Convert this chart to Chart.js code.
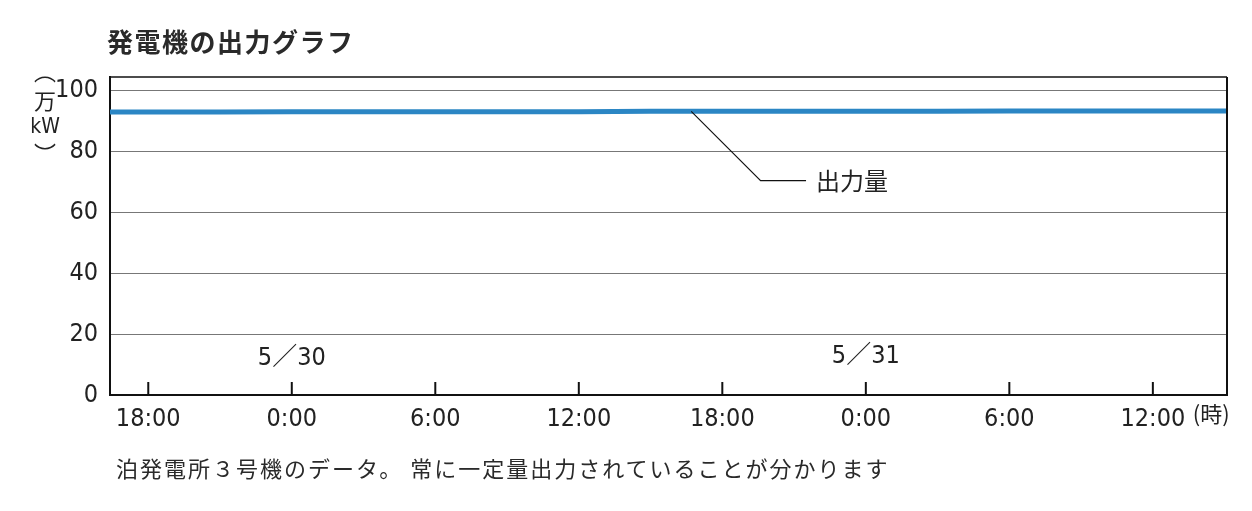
<!DOCTYPE html>
<html>
<head>
	<meta charset="utf-8">
	<title>発電機の出力グラフ</title>
	<script src="https://cdn.jsdelivr.net/npm/chart.js@4.4.1/dist/chart.umd.min.js"></script>
	<style>
		body { margin: 0; background: #fff; }
		#wrap { position: relative; width: 1252px; height: 511px; }
		#chart1 { position: absolute; left: 0; top: 0; }
		.title {
			position: absolute; left: 107px; top: 22px;
			font-family: "Noto Sans CJK JP", sans-serif; font-weight: bold;
			font-size: 26px; letter-spacing: 1.5px; color: #2a2a2a;
		}
		.caption {
			position: absolute; left: 116px; top: 451px;
			font-family: "Noto Sans CJK JP", sans-serif;
			font-size: 22px; letter-spacing: 2px; color: #2a2a2a;
		}
	</style>
</head>
<body>
<div id="wrap">
	<canvas id="chart1" width="1252" height="511"></canvas>
	<div class="title">発電機の出力グラフ</div>
	<div class="caption">泊発電所３号機のデータ。 常に一定量出力されていることが分かります</div>
</div>
<script>
	// hours counted from 5/30 0:00
	var hours  = [-7.6, -6, -3, 0, 3, 6, 9, 12, 15, 18, 21, 24, 27, 30, 33, 36, 39.1];
	var output = [93.1, 93.1, 93.1, 93.2, 93.2, 93.2, 93.2, 93.2, 93.3, 93.3, 93.3, 93.3, 93.3, 93.4, 93.4, 93.4, 93.4];
	var tickHours = [-6, 0, 6, 12, 18, 24, 30, 36];
	var yTicks = [0, 20, 40, 60, 80, 100];
	var dateLabels = ["5／30", "5／31"];
	var dateHours = [0, 24];
	var seriesName = "出力量";

	var narrow = '"Liberation Sans Narrow", "DejaVu Sans Condensed", "Noto Sans CJK JP", sans-serif';
	var jp = '"Noto Sans CJK JP", sans-serif';

	function hourLabel(v) {
		var h = ((v % 24) + 24) % 24;
		return h + ":00";
	}

	// frame, inward ticks, dates, unit labels and the leader for the series name
	var extras = {
		id: 'extras',
		afterDraw: function(chart) {
			var ctx = chart.ctx, a = chart.chartArea;
			var xs = chart.scales.x, ys = chart.scales.y;
			ctx.save();
			ctx.strokeStyle = '#111';
			ctx.lineWidth = 1.5;
			ctx.beginPath();
			ctx.moveTo(a.left, a.top); ctx.lineTo(a.right, a.top);
			ctx.stroke();
			ctx.lineWidth = 2;
			ctx.beginPath();
			ctx.moveTo(a.right, a.top); ctx.lineTo(a.right, a.bottom);
			ctx.stroke();

			// tick marks pointing into the plot
			tickHours.forEach(function(h) {
				var x = xs.getPixelForValue(h);
				ctx.beginPath();
				ctx.moveTo(x, a.bottom); ctx.lineTo(x, a.bottom - 13);
				ctx.stroke();
			});

			ctx.fillStyle = '#222';
			ctx.textAlign = 'center';
			ctx.textBaseline = 'middle';
			ctx.font = '25px ' + narrow;
			dateLabels.forEach(function(t, i) {
				ctx.fillText(t, xs.getPixelForValue(dateHours[i]), ys.getPixelForValue(12) - (i ? 2 : 0));
			});

			// (時) after the last tick label
			ctx.textAlign = 'left';
			ctx.font = '22px ' + jp;
			ctx.fillText("(時)", xs.getPixelForValue(36) + 40, a.bottom + 19);

			// vertical unit (万kW)
			ctx.textAlign = 'center';
			ctx.font = '22px ' + jp;
			ctx.fillText("︵", 45, 72);
			ctx.fillText("万", 45, 101);
			ctx.font = '21px ' + narrow;
			ctx.fillText("kW", 45, 128);
			ctx.font = '22px ' + jp;
			ctx.fillText("︶", 45, 154);

			// leader line to the series name
			ctx.strokeStyle = '#111';
			ctx.lineWidth = 1.2;
			ctx.beginPath();
			ctx.moveTo(xs.getPixelForValue(16.7), ys.getPixelForValue(93.3));
			ctx.lineTo(xs.getPixelForValue(19.6), ys.getPixelForValue(70.5));
			ctx.lineTo(xs.getPixelForValue(21.5), ys.getPixelForValue(70.5));
			ctx.stroke();
			ctx.textAlign = 'left';
			ctx.font = '24px ' + jp;
			ctx.fillText(seriesName, xs.getPixelForValue(21.5) + 10, ys.getPixelForValue(70.5));
			ctx.restore();
		}
	};

	var points = hours.map(function(h, i) { return { x: h, y: output[i] }; });

	new Chart(document.getElementById("chart1"), {
		type: 'line',
		data: {
			datasets: [{
				label: seriesName,
				data: points,
				borderColor: '#2b86c4',
				borderWidth: 5,
				pointRadius: 0,
				tension: 0
			}]
		},
		options: {
			responsive: false,
			animation: false,
			devicePixelRatio: 1,
			layout: { padding: { top: 77, right: 25, left: 0, bottom: 0 } },
			plugins: { legend: { display: false }, tooltip: { enabled: false } },
			scales: {
				x: {
					type: 'linear',
					min: -7.6,
					max: 39.1,
					afterBuildTicks: function(axis) {
						axis.ticks = tickHours.map(function(v) { return { value: v }; });
					},
					afterFit: function(s) { s.height = 116; },
					grid: { display: false },
					border: { display: true, color: '#111', width: 2 },
					ticks: {
						callback: function(v) { return hourLabel(v); },
						font: { family: narrow, size: 25 },
						color: '#222',
						padding: 1,
						maxRotation: 0,
						autoSkip: false
					}
				},
				y: {
					min: 0,
					max: 104.6,
					afterBuildTicks: function(axis) {
						axis.ticks = yTicks.map(function(v) { return { value: v }; });
					},
					afterFit: function(s) { s.width = 110; },
					grid: { color: '#777', lineWidth: 1, drawTicks: false },
					border: { display: true, color: '#111', width: 2 },
					ticks: {
						font: { family: narrow, size: 25 },
						color: '#222',
						padding: 12
					}
				}
			}
		},
		plugins: [extras]
	});
</script>
</body>
</html>
